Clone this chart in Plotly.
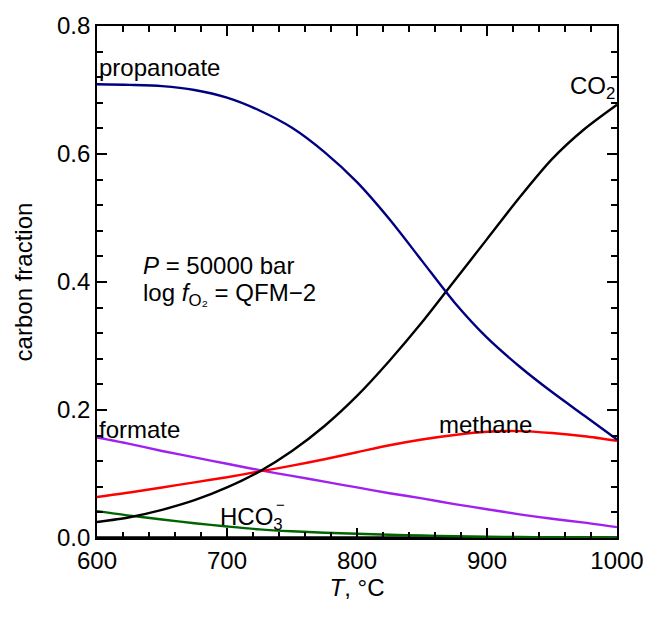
import plotly.graph_objects as go

T = [600, 625, 650, 675, 700, 725, 750, 775, 800, 825, 850, 875, 900, 925, 950, 975, 1000]
propanoate = [0.709, 0.708, 0.706, 0.700, 0.688, 0.668, 0.641, 0.603, 0.556, 0.498, 0.433, 0.368, 0.313, 0.268, 0.228, 0.191, 0.154]
co2 = [0.025, 0.0325, 0.044, 0.059, 0.079, 0.104, 0.136, 0.175, 0.222, 0.277, 0.337, 0.402, 0.467, 0.532, 0.592, 0.639, 0.677]
methane = [0.064, 0.071, 0.079, 0.087, 0.095, 0.104, 0.113, 0.123, 0.134, 0.145, 0.154, 0.161, 0.166, 0.167, 0.164, 0.159, 0.152]
formate = [0.157, 0.147, 0.136, 0.126, 0.116, 0.106, 0.097, 0.088, 0.079, 0.070, 0.062, 0.053, 0.045, 0.037, 0.030, 0.024, 0.017]
hco3 = [0.042, 0.035, 0.029, 0.023, 0.018, 0.0135, 0.0105, 0.0083, 0.0066, 0.0051, 0.0038, 0.0028, 0.002, 0.0015, 0.0011, 0.0008, 0.0005]
other = [0.001] * len(T)

series = [
    ("other", other, "black"),
    ("HCO3-", hco3, "#006400"),
    ("formate", formate, "#a020f0"),
    ("methane", methane, "#ff0000"),
    ("CO2", co2, "black"),
    ("propanoate", propanoate, "#000080"),
]

FONT = "Liberation Sans, Arial, sans-serif"
FS = 24
fig = go.Figure()
for name, ys, col in series:
    fig.add_trace(go.Scatter(x=T, y=ys, mode="lines", name=name,
                             line=dict(color=col, width=2.4, shape="spline", smoothing=0.8),
                             showlegend=False, hoverinfo="skip"))

tf = dict(family=FONT, size=FS, color="black")
ann = [
    dict(x=600, y=0.711, text="propanoate", xanchor="left", yanchor="bottom"),
    dict(x=1000, y=0.676, text="CO<sub>2</sub>", xanchor="right", yanchor="bottom"),
    dict(x=600, y=0.146, text="formate", xanchor="left", yanchor="bottom"),
    dict(x=899, y=0.177, text="methane", xanchor="center", yanchor="middle"),
    dict(x=693, y=0.030, text="HCO<sub>3</sub>", xanchor="left", yanchor="middle"),
    dict(x=741, y=0.053, text="−", xanchor="center", yanchor="middle", font=dict(family=FONT, size=15, color="black")),
    dict(x=634, y=0.426, text="<i>P</i> = 50000 bar", xanchor="left", yanchor="middle"),
    dict(x=634, y=0.380, text="log <i>f</i><sub>O₂</sub> = QFM−2", xanchor="left", yanchor="middle"),
]
for a in ann:
    a.setdefault("font", tf)
    a.update(showarrow=False, xref="x", yref="y")
fig.update_layout(annotations=ann)

axis_common = dict(showline=True, linecolor="black", linewidth=1.6, mirror="ticks",
                   ticks="inside", ticklen=10, tickwidth=1.6, tickcolor="black",
                   showgrid=False, zeroline=False, layer="above traces",
                   tickfont=dict(family=FONT, size=FS, color="black"))
fig.update_layout(
    xaxis=dict(range=[600, 1000], dtick=100, tick0=600,
               minor=dict(dtick=20, tick0=600, ticks="inside", ticklen=6, tickwidth=1.5,
                          tickcolor="black", showgrid=False),
               title=dict(text="<i>T</i>, °C", font=tf, standoff=0), **axis_common),
    yaxis=dict(range=[0, 0.8], dtick=0.2, tick0=0, tickformat=".1f",
               minor=dict(dtick=0.04, tick0=0, ticks="inside", ticklen=6, tickwidth=1.5,
                          tickcolor="black", showgrid=False),
               title=dict(text="carbon fraction", font=tf, standoff=18), **axis_common),
    width=656, height=618, margin=dict(l=97, r=39, t=20, b=80),
    plot_bgcolor="white", paper_bgcolor="white",
)
fig.write_html("out.html")
